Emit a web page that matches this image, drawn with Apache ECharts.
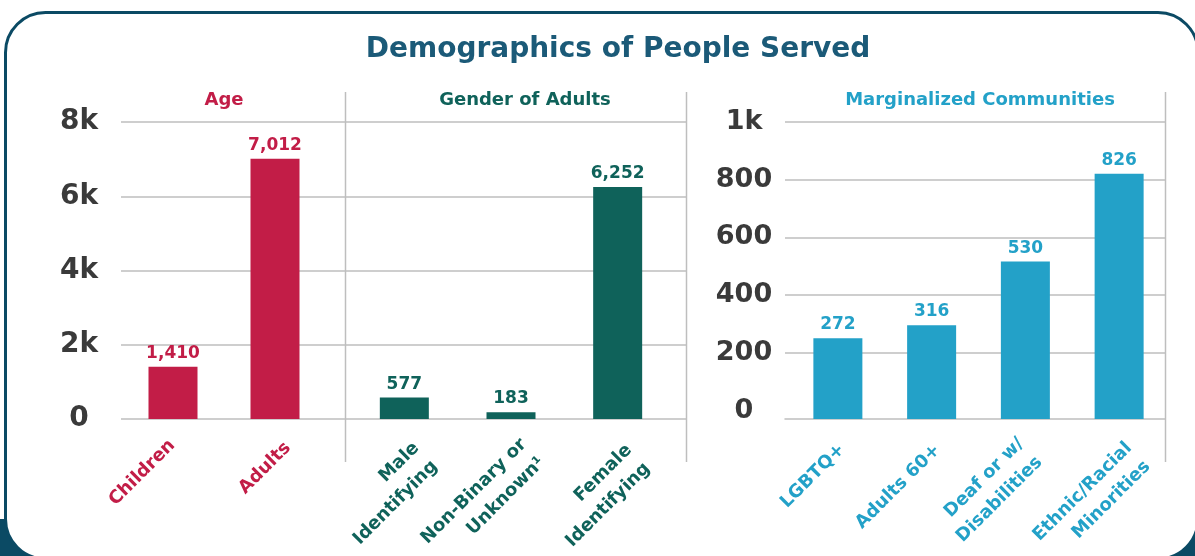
<!DOCTYPE html>
<html>
<head>
<meta charset="utf-8">
<script src="https://cdn.jsdelivr.net/npm/echarts@6/dist/echarts.min.js"></script>
<style>
html,body{margin:0;padding:0;background:#fff;}
#chart{width:1195px;height:556px;}
</style>
</head>
<body>
<div id="chart"></div>
<script>
// ---- data ----
const ageCategories = ['Children', 'Adults'];
const ageValues = [1410, 7012];
const genderCategories = ['Male\nIdentifying', 'Non-Binary or\nUnknown¹', 'Female\nIdentifying'];
const genderValues = [577, 183, 6252];
const marginalCategories = ['LGBTQ+', 'Adults 60+', 'Deaf or w/\nDisabilities', 'Ethnic/Racial\nMinorities'];
const marginalValues = [272, 316, 530, 826];
const leftTickValues = [0, 2000, 4000, 6000, 8000];
const leftTickLabels = ['0', '2k', '4k', '6k', '8k'];
const rightTickValues = [0, 200, 400, 600, 800, 1000];
const rightTickLabels = ['0', '200', '400', '600', '800', '1k'];

// ---- styling ----
const FONT = "'DejaVu Sans', sans-serif";
const C_AGE = '#c21d47', C_GEN = '#0f625a', C_MAR = '#23a1c8';
const GRID_C = '#bebebe', DARK = '#0b4a64';
// placement tweaks for the rotated category labels: top spacer height, trailing pad (px)
const labelLayout = {
  'Children': [14, 8], 'Adults': [37, 0],
  'Male\nIdentifying': [66, 3], 'Non-Binary or\nUnknown¹': [62, 0], 'Female\nIdentifying': [68, 5],
  'LGBTQ+': [22, 5], 'Adults 60+': [25, 4], 'Deaf or w/\nDisabilities': [28, 7], 'Ethnic/Racial\nMinorities': [54, 0]
};

function catLabel(color, margin) {
  const rich = { c: { color: color, fontFamily: FONT, fontWeight: 'bold', fontSize: 18, lineHeight: 26 } };
  Object.values(labelLayout).forEach(function (a) {
    if (a[0]) rich['s' + a[0]] = { height: a[0], lineHeight: a[0], fontSize: 2, color: 'rgba(0,0,0,0)' };
    if (a[1]) rich['p' + a[1]] = { width: a[1], fontSize: 2, lineHeight: 26, color: 'rgba(0,0,0,0)' };
  });
  return {
    interval: 0, rotate: 45, margin: margin, color: color,
    fontFamily: FONT, fontWeight: 'bold', fontSize: 18, lineHeight: 26,
    formatter: function (v) {
      const a = labelLayout[v] || [0, 0];
      let s = v.split('\n').map(function (l) {
        return '{c|' + l + '}' + (a[1] ? '{p' + a[1] + '| }' : '');
      }).join('\n');
      if (a[0]) s = '{s' + a[0] + '| }\n' + s;
      return s;
    },
    rich: rich
  };
}
function fmtTick(values, labels) {
  return function (v) { const i = values.indexOf(v); return i >= 0 ? labels[i] : ''; };
}
function barSeries(name, x, y, data, color) {
  return {
    name: name, type: 'bar', xAxisIndex: x, yAxisIndex: y, data: data, barWidth: 49,
    itemStyle: { color: color },
    label: {
      show: true, position: 'top', distance: 5, color: color,
      fontFamily: FONT, fontWeight: 'bold', fontSize: 17,
      formatter: function (p) { return p.value.toLocaleString('en-US'); }
    }
  };
}
const hiddenVal = function (g, min, max) { return { gridIndex: g, type: 'value', min: min, max: max, show: false }; };
const sLine = { show: true, lineStyle: { color: GRID_C, width: 1.5 } };

const chart = echarts.init(document.getElementById('chart'), null, { renderer: 'canvas' });
chart.setOption({
  animation: false,
  backgroundColor: '#ffffff',
  title: [
    { text: 'Demographics of People Served', left: 613, top: 31, textAlign: 'center',
      textStyle: { fontFamily: FONT, fontWeight: 'bold', fontSize: 28, color: '#1b5a78' } },
    { text: 'Age', left: 219, top: 86, textAlign: 'center',
      textStyle: { fontFamily: FONT, fontWeight: 'bold', fontSize: 18, color: C_AGE } },
    { text: 'Gender of Adults', left: 520, top: 86, textAlign: 'center',
      textStyle: { fontFamily: FONT, fontWeight: 'bold', fontSize: 18, color: C_GEN } },
    { text: 'Marginalized Communities', left: 975, top: 86, textAlign: 'center',
      textStyle: { fontFamily: FONT, fontWeight: 'bold', fontSize: 18, color: C_MAR } }
  ],
  graphic: [
    { type: 'rect', z: -20, silent: true, shape: { x: 0, y: 519, width: 1195, height: 37 }, style: { fill: DARK } },
    { type: 'rect', z: -19, silent: true, shape: { x: 5.5, y: 12.5, width: 1192.5, height: 546.5, r: 40 },
      style: { fill: '#ffffff', stroke: DARK, lineWidth: 3 } },
    { type: 'line', z: 5, silent: true, shape: { x1: 345.5, y1: 92, x2: 345.5, y2: 462 }, style: { stroke: GRID_C, lineWidth: 1.5 } },
    { type: 'line', z: 5, silent: true, shape: { x1: 686.5, y1: 92, x2: 686.5, y2: 462 }, style: { stroke: GRID_C, lineWidth: 1.5 } },
    { type: 'line', z: 5, silent: true, shape: { x1: 1165.5, y1: 92, x2: 1165.5, y2: 462 }, style: { stroke: GRID_C, lineWidth: 1.5 } }
  ],
  grid: [
    { left: 121, top: 122, width: 565, height: 297, outerBoundsMode: 'none' },
    { left: 122, top: 122, width: 204, height: 297, outerBoundsMode: 'none' },
    { left: 351, top: 122, width: 320, height: 297, outerBoundsMode: 'none' },
    { left: 785, top: 122, width: 380, height: 288.5, outerBoundsMode: 'none' },
    { left: 791, top: 122, width: 375, height: 297, outerBoundsMode: 'none' },
    { left: 785, top: 122, width: 380, height: 297, outerBoundsMode: 'none' }
  ],
  xAxis: [
    hiddenVal(0, 0, 1),
    { gridIndex: 1, type: 'category', data: ageCategories, axisLine: { show: false }, axisTick: { show: false }, axisLabel: catLabel(C_AGE, 13) },
    { gridIndex: 2, type: 'category', data: genderCategories, axisLine: { show: false }, axisTick: { show: false }, axisLabel: catLabel(C_GEN, 10) },
    hiddenVal(3, 0, 1),
    { gridIndex: 4, type: 'category', data: marginalCategories, axisLine: { show: false }, axisTick: { show: false }, axisLabel: catLabel(C_MAR, 16.5) },
    { gridIndex: 5, type: 'value', min: 0, max: 1, axisLine: { show: true, lineStyle: { color: GRID_C, width: 1.5 } },
      axisTick: { show: false }, axisLabel: { show: false }, splitLine: { show: false } }
  ],
  yAxis: [
    { gridIndex: 0, type: 'value', min: 0, max: 8000, interval: 2000,
      axisLine: { show: false }, axisTick: { show: false }, splitLine: sLine,
      axisLabel: { margin: 42, align: 'center', color: '#3a3a3a', fontFamily: FONT, fontWeight: 'bold', fontSize: 28,
        formatter: fmtTick(leftTickValues, leftTickLabels) } },
    hiddenVal(1, 0, 8000),
    hiddenVal(2, 0, 8000),
    { gridIndex: 3, type: 'value', min: 0, max: 1000, interval: 200,
      axisLine: { show: false }, axisTick: { show: false },
      splitLine: { show: true, showMinLine: false, lineStyle: { color: GRID_C, width: 1.5 } },
      axisLabel: { margin: 41, align: 'center', color: '#3a3a3a', fontFamily: FONT, fontWeight: 'bold', fontSize: 27,
        formatter: fmtTick(rightTickValues, rightTickLabels) } },
    hiddenVal(4, 0, 1000),
    hiddenVal(5, 0, 1)
  ],
  series: [
    barSeries('Age', 1, 1, ageValues, C_AGE),
    barSeries('Gender of Adults', 2, 2, genderValues, C_GEN),
    barSeries('Marginalized Communities', 4, 4, marginalValues, C_MAR)
  ]
});
</script>
</body>
</html>
